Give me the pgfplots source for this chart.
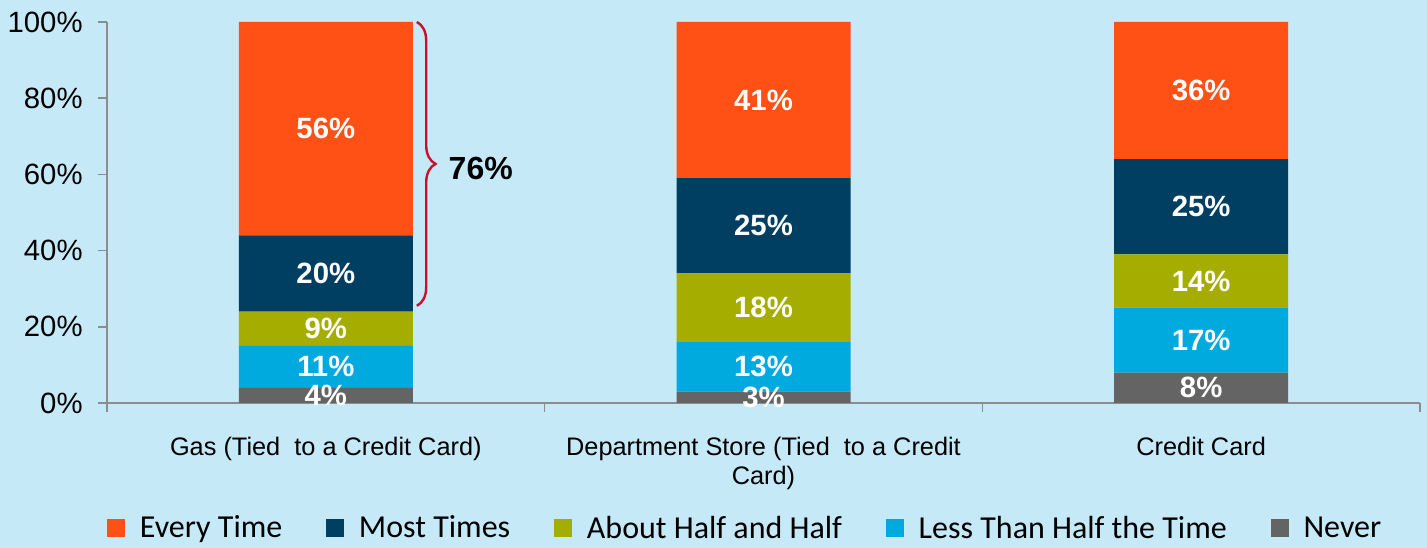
\documentclass[border=0pt]{standalone}
\usepackage{pgfplots}
\usepackage{pgfplotstable}
\pgfplotsset{compat=1.18}
\usepackage{fontspec}
\setmainfont{Liberation Sans}
\newfontfamily\legendfont{Carlito}
\usetikzlibrary{decorations.pathreplacing}
\definecolor{bg}{HTML}{C6E9F8}
\definecolor{cEvery}{HTML}{FF5015}
\definecolor{cMost}{HTML}{003F62}
\definecolor{cHalf}{HTML}{A5AD00}
\definecolor{cLess}{HTML}{00AADF}
\definecolor{cNever}{HTML}{646464}
\definecolor{axgray}{HTML}{8C8C8C}
\definecolor{bracered}{HTML}{C8102E}

\pgfplotstableread{
x y
0 4
1 3
2 8
}\never
\pgfplotstableread{
x y
0 11
1 13
2 17
}\less
\pgfplotstableread{
x y
0 9
1 18
2 14
}\half
\pgfplotstableread{
x y
0 20
1 25
2 25
}\most
\pgfplotstableread{
x y
0 56
1 41
2 36
}\every
% label positions (segment centres) and values
\pgfplotstableread{
x y v
0 2 4
0 9.5 11
0 19.5 9
0 34 20
0 72 56
1 1.5 3
1 9.5 13
1 25 18
1 46.5 25
1 79.5 41
2 4 8
2 16.5 17
2 32 14
2 51.5 25
2 82 36
}\labels

\begin{document}
\begin{tikzpicture}
\useasboundingbox (0,0) rectangle (1070.25pt,411pt);
\fill[bg] (0,0) rectangle (1070.25pt,411pt);
\begin{axis}[
  at={(80.25pt,108.75pt)}, anchor=south west,
  scale only axis, width=984.75pt, height=285.75pt,
  ybar stacked, bar width=130.5pt,
  xmin=-0.5, xmax=2.5, ymin=0, ymax=100,
  axis lines=left, axis line style={-, draw=axgray, line width=1.2pt},
  tick align=outside, major tick length=6.75pt,
  tick style={draw=axgray, line width=1.2pt},
  xtick={-0.5,0.5,1.5,2.5}, xticklabels={},
  extra x ticks={0,1,2},
  extra x tick labels={Gas (Tied\ \ to a Credit Card),{Department Store (Tied\ \ to a Credit\\Card)},Credit Card},
  extra x tick style={major tick length=0pt, tick style={draw=none}},
  xticklabel style={font=\fontsize{19}{22}\selectfont, align=center, yshift=-22pt},
  ytick={0,20,40,60,80,100},
  yticklabels={0\%,20\%,40\%,60\%,80\%,100\%},
  yticklabel style={font=\fontsize{22}{24}\selectfont, xshift=-8pt},
  legend columns=5,
  reverse legend,
  legend image code/.code={\fill[#1] (0pt,-6.75pt) rectangle (13.5pt,6.75pt);},
  legend style={at={(0,-0.328)}, anchor=west, draw=none, fill=none, inner sep=0pt,
    font=\legendfont\fontsize{24}{28}\selectfont,
    /tikz/every odd column/.append style={column sep=9pt},
    /tikz/every even column/.append style={column sep=31pt}},
]
\addplot[fill=cNever, draw=none] table {\never};
\addlegendentry{Never}
\addplot[fill=cLess, draw=none] table {\less};
\addlegendentry{Less Than Half the Time}
\addplot[fill=cHalf, draw=none] table {\half};
\addlegendentry{About\ Half and Half}
\addplot[fill=cMost, draw=none] table {\most};
\addlegendentry{Most\ Times}
\addplot[fill=cEvery, draw=none] table {\every};
\addlegendentry{Every Time}
\draw[bracered, line width=1.8pt, decorate, decoration={brace, amplitude=14pt}]
  (axis cs:0.208,100) -- (axis cs:0.208,25.5);
\node[anchor=west, font=\bfseries\fontsize{24}{28}\selectfont] at (axis cs:0.27,61.5) {76\%};
\end{axis}
\begin{axis}[
  at={(80.25pt,108.75pt)}, anchor=south west,
  scale only axis, width=984.75pt, height=285.75pt,
  xmin=-0.5, xmax=2.5, ymin=0, ymax=100,
  hide axis, clip=false,
]
\addplot[draw=none, mark=none, point meta=explicit,
  nodes near coords={\pgfmathprintnumber[assume math mode=true]{\pgfplotspointmeta}\%},
  nodes near coords align=center,
  every node near coord/.append style={anchor=center, text=white, font=\bfseries\fontsize{22}{26}\selectfont}]
  table[meta=v] {\labels};
\end{axis}
\end{tikzpicture}
\end{document}
